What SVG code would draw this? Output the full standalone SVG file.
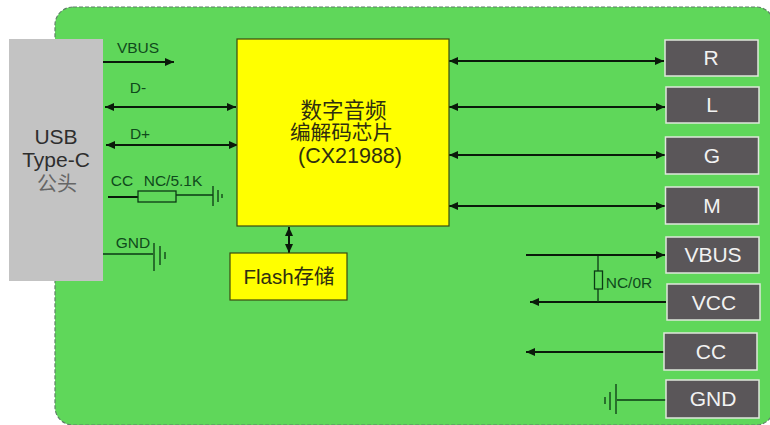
<svg xmlns="http://www.w3.org/2000/svg" width="770" height="425" viewBox="0 0 770 425">
<style>
text{font-family:"Liberation Sans","Noto Sans CJK SC",sans-serif;text-anchor:middle}
.l{fill:#0f4a1c;font-size:15.500px}
.w{stroke:#0b3a14;stroke-width:1.300;fill:none}
.a{stroke:#0a1a0a;stroke-width:2;fill:none}
.box{fill:#5a5659;stroke:#dfe8dc;stroke-width:1.500}
.bt{fill:#f2f2f2;font-size:21px}
.y{fill:#ffff00;stroke:#3a4a10;stroke-width:1.200}
.t{fill:#2e2e10;font-size:21.500px}
</style>
<defs>
<marker id="e" markerUnits="userSpaceOnUse" markerWidth="10" markerHeight="10" refX="9" refY="4" orient="auto-start-reverse"><path d="M0 0L9 4L0 8Z" fill="#0a1a0a"/></marker>
</defs>
<rect x="0" y="0" width="770" height="425" fill="#fff"/>
<rect id="board" x="55" y="7" width="719" height="418" rx="18" fill="#5fd75a" stroke="#5f8068" stroke-width="1.200" stroke-dasharray="4 2"/>
<g id="connectors">
<path class="a" d="M103 62H174" marker-end="url(#e)"/>
<path class="a" d="M105 107H236" marker-start="url(#e)" marker-end="url(#e)"/>
<path class="a" d="M106 145H238" marker-start="url(#e)" marker-end="url(#e)"/>
<path class="a" d="M108 197H138"/>
<path class="w" d="M176 195H213M213 186V206M218 190V202M222 194V198"/>
<path class="w" d="M103 254H153M154 243V271M160 246V265M165 252V259"/>
<path class="a" d="M449 61H664" marker-start="url(#e)" marker-end="url(#e)"/>
<path class="a" d="M449 107H665" marker-start="url(#e)" marker-end="url(#e)"/>
<path class="a" d="M449 155H665" marker-start="url(#e)" marker-end="url(#e)"/>
<path class="a" d="M449 206H665" marker-start="url(#e)" marker-end="url(#e)"/>
<path class="a" d="M289 227V253" marker-start="url(#e)" marker-end="url(#e)"/>
<path class="a" d="M526 255H665" marker-end="url(#e)"/>
<path class="a" d="M666 302H530" marker-end="url(#e)"/>
<path class="a" d="M664 352H526" marker-end="url(#e)"/>
<path class="w" d="M598 256V271M598 289V302"/>
<path class="w" d="M666 400H617M616 384V414M610 392V410M605 397V404"/>
</g>
<g id="usb"><rect x="9" y="39" width="94" height="242" fill="#c3c3c3"/>
<text x="56" y="144" font-size="21" fill="#2e2e2e">USB</text><text x="56" y="167" font-size="21" fill="#2e2e2e">Type-C</text><text x="57" y="191" font-size="20" fill="#666">公头</text></g>
<g id="chip"><rect class="y" x="237" y="39" width="212" height="187"/>
<text class="t" x="343.500" y="118">数字音频</text><text class="t" x="341.500" y="140" style="font-size:20.600px">编解码芯片</text><text class="t" x="350" y="163">(CX21988)</text></g>
<g id="flash"><rect class="y" x="230" y="253" width="117" height="47"/><text class="t" x="289" y="284" style="font-size:20.500px">Flash存储</text></g>
<g id="cc-res"><rect x="138" y="191" width="38" height="11" fill="none" stroke="#0b3a14" stroke-width="1.300"/></g>
<g id="nc0r"><rect x="594.500" y="271" width="8" height="18" fill="none" stroke="#0b3a14" stroke-width="1.300"/></g>
<g id="labels">
<text class="l" x="138" y="53">VBUS</text><text class="l" x="138" y="93">D-</text><text class="l" x="140" y="139">D+</text>
<text class="l" x="122" y="186">CC</text><text class="l" x="173" y="186">NC/5.1K</text><text class="l" x="133" y="248">GND</text><text class="l" x="629" y="288">NC/0R</text>
</g>
<g id="r"><rect class="box" x="665" y="40" width="93" height="36"/><text class="bt" x="711" y="65">R</text></g>
<g id="l"><rect class="box" x="666" y="87" width="93" height="36"/><text class="bt" x="712" y="112">L</text></g>
<g id="g"><rect class="box" x="665.500" y="137" width="93" height="37"/><text class="bt" x="712" y="163">G</text></g>
<g id="m"><rect class="box" x="665.500" y="187" width="93" height="37"/><text class="bt" x="712" y="213">M</text></g>
<g id="vbus"><rect class="box" x="666" y="237" width="93" height="36"/><text class="bt" x="713" y="262">VBUS</text></g>
<g id="vcc"><rect class="box" x="667" y="284" width="93" height="36"/><text class="bt" x="714" y="310">VCC</text></g>
<g id="cc"><rect class="box" x="664" y="333" width="93" height="37"/><text class="bt" x="711" y="359">CC</text></g>
<g id="gnd"><rect class="box" x="666" y="380" width="93" height="38"/><text class="bt" x="713" y="406">GND</text></g>
</svg>
